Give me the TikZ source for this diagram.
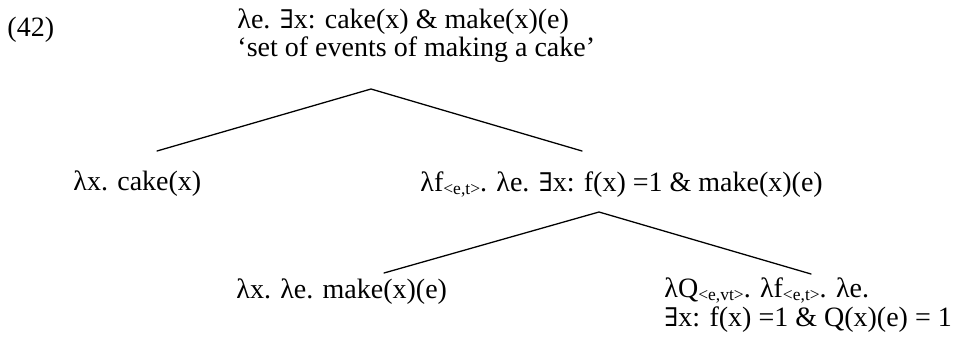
\documentclass[tikz,border=0pt]{standalone}
\usepackage{fontspec}
\setmainfont{Liberation Serif}
\newfontfamily\exfont[Scale=0.92]{DejaVu Serif}
\usetikzlibrary{positioning}
\newcommand{\ex}{{\exfont ∃}}
\newcommand{\ty}[1]{\raisebox{-0.25ex}{\fontsize{7.5}{8}\selectfont <#1>}}
\tikzset{
  lbl/.style={anchor=base west,inner sep=0pt,font=\fontsize{12}{14}\selectfont},
  branch/.style={line width=0.55pt,line cap=round},
}

\begin{document}
\begin{tikzpicture}[x=0.4286pt,y=-0.4286pt]
  \useasboundingbox (0,0) rectangle (960,347);
  % example number
  \node[lbl] (num) at (7,36) {(42)};
  % root
  \node[lbl] (root) at (237,28) {λe. \ex x: cake(x) \& make(x)(e)};
  \node[lbl] (gloss) at (237,56) {‘set of events of making a cake’};
  % daughters
  \node[lbl] (cake) at (73,190) {λx. cake(x)};
  \node[lbl] (vp) at (420,191) {λf\ty{e,t}. λe. \ex x: f(x) =1 \& make(x)(e)};
  \node[lbl] (make) at (236,298) {λx. λe. make(x)(e)};
  \node[lbl] (cl1) at (664,297) {λQ\ty{e,vt}. λf\ty{e,t}. λe.};
  \node[lbl] (cl2) at (664,326) {\ex x: f(x) =1 \& Q(x)(e) = 1};
  % branch points
  \coordinate (top) at (371,89);
  \coordinate (topl) at (157,151);
  \coordinate (topr) at (582,151);
  \coordinate (mid) at (599,212);
  \coordinate (midl) at (384,273);
  \coordinate (midr) at (811,274);
  \draw[branch] (topl) -- (top) -- (topr);
  \draw[branch] (midl) -- (mid) -- (midr);
\end{tikzpicture}
\end{document}
